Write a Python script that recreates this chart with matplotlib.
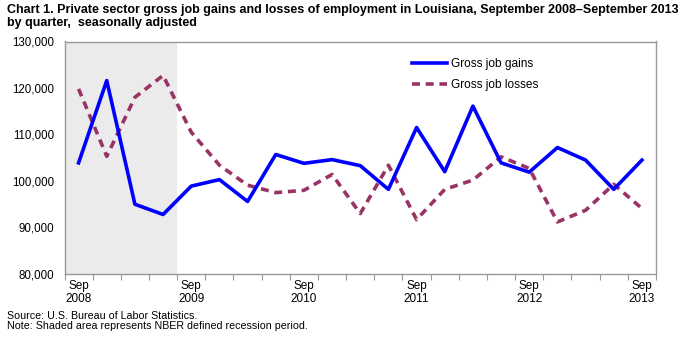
import numpy as np
import matplotlib.pyplot as plt
from matplotlib.lines import Line2D

# Louisiana private sector gross job flows, quarterly, Sep 2008 - Sep 2013
quarters = ["Sep 2008", "Dec 2008", "Mar 2009", "Jun 2009",
            "Sep 2009", "Dec 2009", "Mar 2010", "Jun 2010",
            "Sep 2010", "Dec 2010", "Mar 2011", "Jun 2011",
            "Sep 2011", "Dec 2011", "Mar 2012", "Jun 2012",
            "Sep 2012", "Dec 2012", "Mar 2013", "Jun 2013",
            "Sep 2013"]
gains = [103900, 121600, 95000, 92800, 98900, 100300, 95600, 105700,
         103800, 104600, 103300, 98200, 111500, 102000, 116100, 103900,
         101900, 107200, 104500, 98200, 104500]
losses = [119800, 105300, 118000, 122700, 110500, 103400, 99100, 97500,
          98000, 101400, 93000, 103400, 91700, 98200, 100200, 105200,
          102700, 91200, 93700, 99300, 94100]
recession_quarters = 4
tick_labels = ["Sep\n2008", "Sep\n2009", "Sep\n2010", "Sep\n2011",
               "Sep\n2012", "Sep\n2013"]

plt.rcParams['font.family'] = ['Liberation Sans', 'DejaVu Sans']

W, H = 683, 337
fig = plt.figure(figsize=(W / 100, H / 100), dpi=100)
ax = fig.add_axes([64.5 / W, 1 - 274 / H, (656 - 64.5) / W, (274 - 41.5) / H])

x = np.arange(len(quarters))
ax.axvspan(-0.5, recession_quarters - 0.5, color='#ebebeb', lw=0, zorder=0)
ax.plot(x, gains, color='#0000ff', lw=2.6, zorder=3)
ax.plot(x, losses, color='#993366', lw=2.6, ls=(0, (2.2, 1.6)), zorder=2)

ax.set_xlim(-0.5, len(quarters) - 0.5)
ax.set_ylim(80000, 130000)
ax.set_yticks(np.arange(80000, 130001, 10000))
ax.set_yticklabels([f"{v:,}" for v in range(80000, 130001, 10000)], fontsize=8.3)
ax.tick_params(axis='y', length=0, pad=7.5)

# boundary ticks between quarters, labels centred on each September
ax.set_xticks(np.arange(-0.5, len(quarters), 1))
ax.set_xticklabels([])
ax.tick_params(axis='x', length=4, color='#999999', width=0.8)
ax.set_xticks(x[::4], minor=True)
ax.set_xticklabels(tick_labels, minor=True, fontsize=8.5, linespacing=1.1)
ax.tick_params(axis='x', which='minor', length=0, pad=4.5)

for s in ax.spines.values():
    s.set_color('#999999')
    s.set_linewidth(1.0)

handles = [Line2D([], [], color='#0000ff', lw=2.6),
           Line2D([], [], color='#993366', lw=2.6, ls=(0, (2.2, 1.6)))]
ax.legend(handles, ["Gross job gains", "Gross job losses"], loc='upper left',
          bbox_to_anchor=(0.57, 0.975), frameon=False, handlelength=2.9,
          handletextpad=0.35, labelspacing=0.75, prop={'size': 8.6})

fig.text(7 / W, 1 - 13.5 / H,
         "Chart 1. Private sector gross job gains and losses of employment in Louisiana, "
         "September 2008\u2013September 2013",
         fontsize=9, fontweight='bold', va='baseline', ha='left')
fig.text(7 / W, 1 - 26 / H, "by quarter,  seasonally adjusted",
         fontsize=9, fontweight='bold', va='baseline', ha='left')
fig.text(7 / W, 1 - 319 / H, "Source: U.S. Bureau of Labor Statistics.",
         fontsize=7.7, va='baseline', ha='left')
fig.text(7 / W, 1 - 329 / H,
         "Note: Shaded area represents NBER defined recession period.",
         fontsize=7.7, va='baseline', ha='left')

fig.savefig("out.png", dpi=100)
